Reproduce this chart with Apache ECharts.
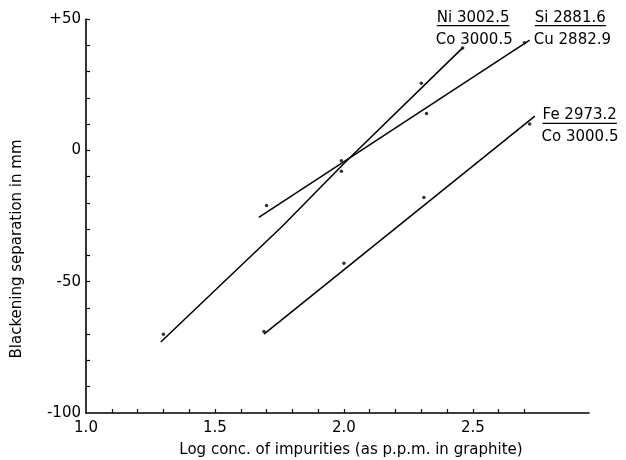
<!DOCTYPE html>
<html><head><meta charset="utf-8">
<script src="https://cdn.jsdelivr.net/npm/echarts@6/dist/echarts.min.js"></script>
<style>html,body{margin:0;padding:0;background:#fff}#c{width:626px;height:460px}</style>
</head><body><div id="c"></div>
<script>
// Fitted lines (log conc., blackening separation mm)
const niLine = [[1.29,-73],[1.76,-29],[2.0,-5],[2.46,39]];
const siLine = [[1.67,-25.5],[2.72,42]];
const feLine = [[1.69,-70],[2.74,13]];
// Measured points
const niPts = [[1.30,-70],[1.99,-8],[2.30,25.5],[2.46,39]];
const siPts = [[1.70,-21],[1.99,-4],[2.32,14],[2.70,41]];
const fePts = [[1.69,-69],[2.00,-43],[2.31,-18],[2.72,10]];
// Axis ticks/labels
const xLabelValues = [1.0,1.5,2.0,2.5];
const xTickValues = [1.1,1.2,1.3,1.4,1.5,1.6,1.7,1.8,1.9,2.0,2.1,2.2,2.3,2.4,2.5,2.6,2.7];
const yLabelValues = [-100,-50,0,50];
const yTickValues = [-90,-80,-70,-60,-50,-40,-30,-20,-10,0,10,20,30,40,50];
// Annotations: [numerator, denominator, x, y]
const annotations = [
  ['Ni 3002.5','Co 3000.5',2.36,50.5],
  ['Si 2881.6','Cu 2882.9',2.74,50.5],
  ['Fe 2973.2','Co 3000.5',2.77,13.3]
];
const xName = 'Log conc. of impurities (as p.p.m. in graphite)';
const yName = 'Blackening separation in mm';

const FONT = 'DejaVu Sans';
const chart = echarts.init(document.getElementById('c'), null, {renderer:'canvas'});
const lineS = (d) => ({type:'line', data:d, symbol:'none', lineStyle:{color:'#000', width:1.5}, silent:true, z:2});
const ptS = (d) => ({type:'scatter', data:d, symbol:'circle', symbolSize:3.5, itemStyle:{color:'#000'}, silent:true, z:3});
chart.setOption({
  animation:false,
  grid:{left:86, top:19, right:37, bottom:47, containLabel:false},
  xAxis:{type:'value', min:1.0, max:2.95,
    axisLine:{onZero:false, lineStyle:{color:'#000', width:1.6}},
    axisTick:{show:true, inside:true, length:4, customValues:xTickValues, lineStyle:{color:'#000', width:1.2}},
    axisLabel:{customValues:xLabelValues, formatter:v=>v.toFixed(1), color:'#000', fontFamily:FONT, fontSize:15, margin:8},
    splitLine:{show:false}},
  yAxis:{type:'value', min:-100, max:50,
    axisLine:{show:true, onZero:false, lineStyle:{color:'#000', width:1.6}},
    axisTick:{show:true, inside:true, length:4, customValues:yTickValues, lineStyle:{color:'#000', width:1.2}},
    axisLabel:{customValues:yLabelValues, formatter:v=>v>0?'+'+v:String(v), color:'#000', fontFamily:FONT, fontSize:15, margin:5},
    splitLine:{show:false}},
  series:[lineS(niLine), lineS(siLine), lineS(feLine), ptS(niPts), ptS(siPts), ptS(fePts)]
});

const ctx = document.createElement('canvas').getContext('2d');
ctx.font = '15px "'+FONT+'"';
const g = [];
annotations.forEach(a=>{
  const p = chart.convertToPixel({gridIndex:0},[a[2],a[3]]);
  const ts = {fill:'#000', font:'15px "'+FONT+'"', textVerticalAlign:'middle', textAlign:'left'};
  g.push({type:'text', x:p[0], y:p[1], style:Object.assign({text:a[0]},ts)});
  g.push({type:'text', x:p[0]-1, y:p[1]+22, style:Object.assign({text:a[1]},ts)});
  const w = Math.max(ctx.measureText(a[0]).width, ctx.measureText(a[1]).width*0.92);
  g.push({type:'line', shape:{x1:p[0], y1:p[1]+8, x2:p[0]+w, y2:p[1]+8}, style:{stroke:'#000', lineWidth:1.2}});
});
g.push({type:'text', x:351, y:450, style:{text:xName, fill:'#000', font:'15px "'+FONT+'"', textAlign:'center', textVerticalAlign:'middle'}});
g.push({type:'text', x:17, y:249, rotation:Math.PI/2, style:{text:yName, fill:'#000', font:'15px "'+FONT+'"', textAlign:'center', textVerticalAlign:'middle'}});
chart.setOption({graphic:g});
</script></body></html>
